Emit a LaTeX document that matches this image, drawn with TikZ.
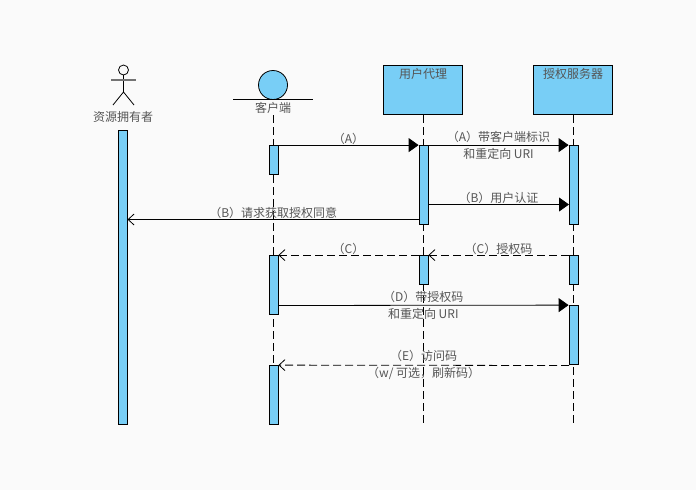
\documentclass[tikz,border=0pt]{standalone}
\usepackage{fontspec}
\setmainfont{Noto Sans CJK SC}
\usetikzlibrary{arrows.meta}
\definecolor{barblue}{HTML}{78CEF6}
\definecolor{pagegray}{HTML}{FAFAFA}
\definecolor{txtgray}{HTML}{555555}
\tikzset{
	txt/.style={font=\fontsize{12}{17}\selectfont, text=txtgray, inner sep=0pt, align=center},
	actbar/.style={draw=black, fill=barblue, minimum width=9pt, inner sep=0pt, line width=0.8pt},
	headbox/.style={draw=black, fill=barblue, minimum width=79pt, minimum height=49pt, inner sep=0pt, line width=0.8pt},
	lifeline/.style={draw=black, line width=0.8pt, dash pattern=on 8pt off 4pt},
	callmsg/.style={draw=black, line width=0.8pt, -{Triangle[length=10pt,width=14pt]}},
	openmsg/.style={draw=black, line width=0.8pt, -{Straight Barb[length=6pt,width=11pt]}},
	retmsg/.style={openmsg, dash pattern=on 8pt off 4pt},
}
\begin{document}
\begin{tikzpicture}[x=1pt, y=-1pt]
	\path[fill=pagegray, use as bounding box] (0,0) rectangle (696,490);

	% heads
	\node[headbox] (agent) at (423,90) {};
	\node[headbox] (server) at (573,90) {};
	\node[txt] (agenttxt) at (423,74) {用户代理};
	\node[txt] (servertxt) at (573,74) {授权服务器};
	\node[shape=circle, draw=black, fill=barblue, minimum size=29pt, inner sep=0pt, line width=0.8pt] (clienthead) at (273,85) {};
	\coordinate (clientl) at (233,99.5);
	\coordinate (clientr) at (313,99.5);
	\draw[line width=0.8pt] (clientl) -- (clientr);
	\node[txt] (clienttxt) at (273,108) {客户端};

	% actor
	\node[shape=circle, draw=black, minimum size=10pt, inner sep=0pt, line width=0.8pt] (ownerhead) at (123.5,70) {};
	\coordinate (ownerhip) at (123.5,92);
	\coordinate (ownerl) at (113,105);
	\coordinate (ownerr) at (134,105);
	\coordinate (armsl) at (111,80);
	\coordinate (armsr) at (136,80);
	\draw[line width=0.8pt] (ownerhead) -- (ownerhip);
	\draw[line width=0.8pt] (ownerl) -- (ownerhip) -- (ownerr);
	\draw[draw=black!55, line width=1.2pt] (armsl) -- (armsr);
	\node[txt] (ownertxt) at (123,117) {资源拥有者};

	% lifelines
	\coordinate (clienttop) at (273.5,115);
	\coordinate (clientend) at (273.5,425);
	\coordinate (agenttop) at (423.5,115);
	\coordinate (agentend) at (423.5,425);
	\coordinate (servertop) at (573.5,115);
	\coordinate (serverend) at (573.5,425);
	\draw[lifeline] (clienttop) -- (clientend);
	\draw[lifeline] (agenttop) -- (agentend);
	\draw[lifeline] (servertop) -- (serverend);

	% activation bars
	\node[actbar, minimum height=294pt] (o1) at (123,277.5) {};
	\node[actbar, minimum height=29pt] (c1) at (273.5,160) {};
	\node[actbar, minimum height=59pt] (c2) at (273.5,285) {};
	\node[actbar, minimum height=59pt] (c3) at (273.5,395) {};
	\node[actbar, minimum height=79pt] (a1) at (423.5,185) {};
	\node[actbar, minimum height=29pt] (a2) at (423.5,270) {};
	\node[actbar, minimum height=79pt] (s1) at (573.5,185) {};
	\node[actbar, minimum height=29pt] (s2) at (573.5,270) {};
	\node[actbar, minimum height=59pt] (s3) at (573.5,335) {};

	% free ends of the messages
	\coordinate (authl) at (428,204.5);
	\coordinate (authr) at (569,204.5);
	\coordinate (consentl) at (419,219.5);
	\coordinate (consentr) at (127.5,219.5);
	\coordinate (coder) at (278,305.5);
	\coordinate (tokenl) at (569,365.5);

	% messages
	\path (c1.north east) edge[callmsg] node[txt, above] {（A）} (a1.north west);
	\path (a1.north east) edge[callmsg] node[txt] {（A）带客户端标识\\和重定向 URI} (s1.north west);
	\path (authl) edge[callmsg] node[txt, above] {（B）用户认证} (authr);
	\path (consentl) edge[openmsg] node[txt, above] {（B）请求获取授权同意} (consentr);
	\path (s2.north west) edge[retmsg] node[txt, above] {（C）授权码} (a2.north east);
	\path (a2.north west) edge[retmsg] node[txt, above] {（C）} (c2.north east);
	\path (coder) edge[callmsg] node[txt] {（D）带授权码\\和重定向 URI} (s3.north west);
	\path (tokenl) edge[retmsg] node[txt] {（E）访问码\\（w/ 可选，刷新码）} (c3.north east);
\end{tikzpicture}
\end{document}
